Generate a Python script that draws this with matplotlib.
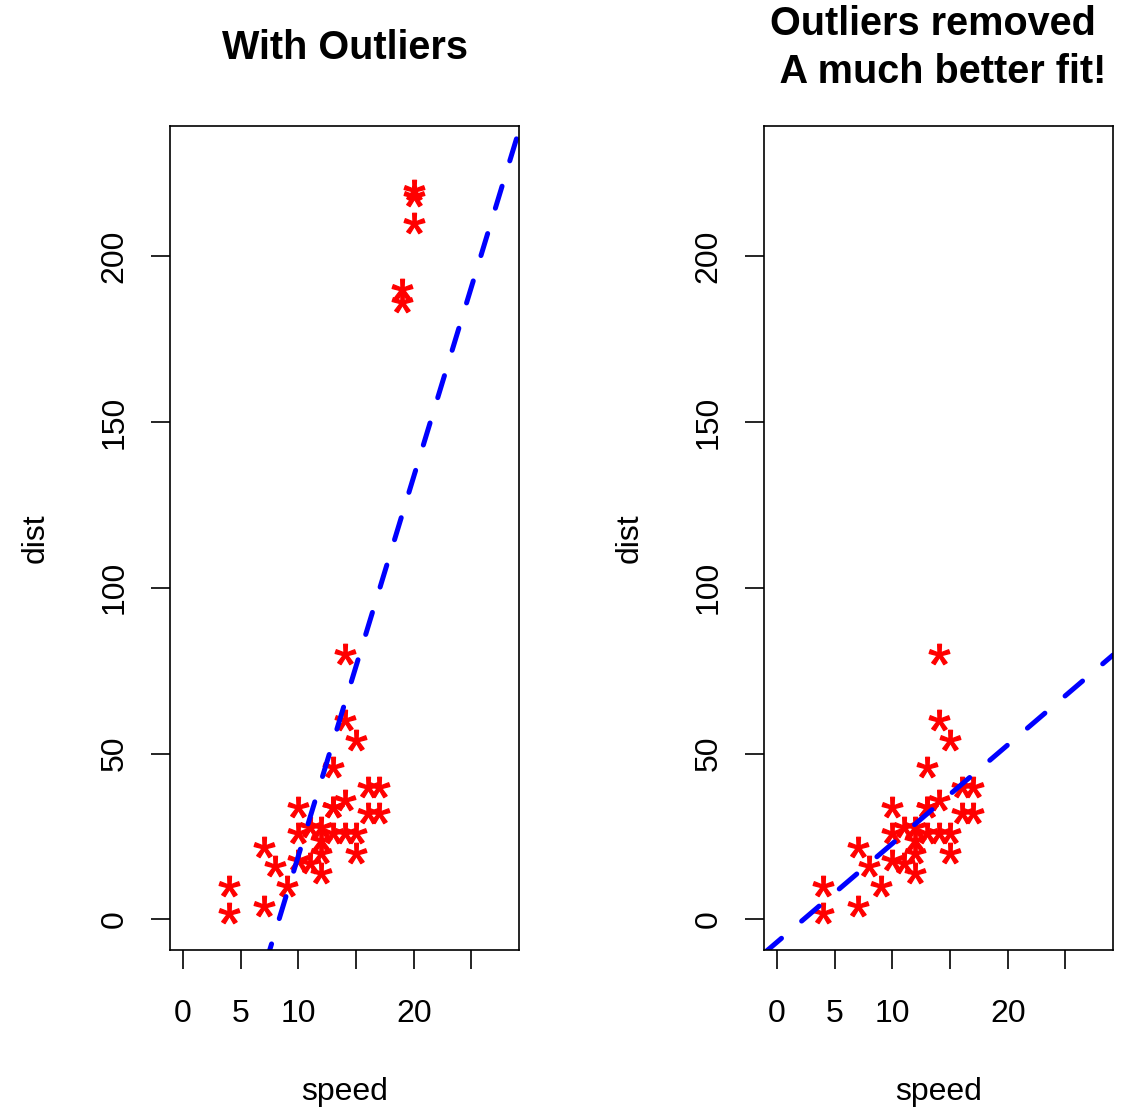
import numpy as np
import matplotlib.pyplot as plt
from matplotlib.textpath import TextPath
from matplotlib.font_manager import FontProperties
from matplotlib.path import Path

# first 30 rows of cars
speed = [4, 4, 7, 7, 8, 9, 10, 10, 10, 11, 11, 12, 12, 12, 12,
         13, 13, 13, 13, 14, 14, 14, 14, 15, 15, 15, 16, 16, 17, 17]
dist = [2, 10, 4, 22, 16, 10, 18, 26, 34, 17, 28, 14, 20, 24, 28,
        26, 34, 34, 46, 26, 36, 60, 80, 20, 26, 54, 32, 40, 32, 40]

# injected outliers
out_speed = [19, 19, 20, 20, 20]
out_dist = [190, 186, 210, 220, 218]

xticks = [0, 5, 10, 15, 20, 25]
xticklabels = ["0", "5", "10", "", "20", ""]
yticks = [0, 50, 100, 150, 200]

W, H = 1122, 1107
plt.rcParams['font.family'] = ['Liberation Sans', 'DejaVu Sans']

# asterisk marker built from the glyph, centred on the data point
tp = TextPath((0, 0), "*", size=10, prop=FontProperties(family='Liberation Sans'))
codes = tp.codes
v = tp.vertices.copy()
real = codes != Path.CLOSEPOLY
v[:, 0] -= (v[real, 0].min() + v[real, 0].max()) / 2
v[:, 1] -= (v[real, 1].min() + v[real, 1].max()) / 2
v[~real] = 0
star = Path(v, codes)

fig = plt.figure(figsize=(W / 100, H / 100), dpi=100)


def panel(left, x, y, title):
    ax = fig.add_axes([left / W, 1 - 950 / H, 349 / W, (950 - 126) / H])
    ax.plot(x, y, linestyle='none', marker=star, markersize=15,
            color='red', markeredgecolor='red', markeredgewidth=0.9)
    b, a = np.polyfit(x, y, 1)
    xl = np.array([-1.12, 29.12])
    ax.plot(xl, a + b * xl, color='blue', linewidth=3.6,
            dashes=(4.6, 5.3), dash_capstyle='round')
    ax.set_xlim(-1.12, 29.12)
    ax.set_ylim(-9.2, 239.2)
    ax.set_xticks(xticks)
    ax.set_xticklabels(xticklabels)
    ax.set_yticks(yticks)
    ax.set_yticklabels([str(t) for t in yticks], rotation=90, va='center')
    ax.tick_params(length=14, width=1.2, labelsize=23, pad=21, color='black')
    ax.tick_params(axis='y', pad=15)
    for s in ax.spines.values():
        s.set_linewidth(1.2)
    ax.set_xlabel("speed", fontsize=23, labelpad=35)
    ax.set_ylabel("dist", fontsize=23, labelpad=35)
    cx = (left + 349 / 2) / W
    fig.text(cx, 1 - 48 / H, title, ha='center', va='center',
             fontsize=28.5, fontweight='bold', linespacing=1.35)
    return ax


ax1 = panel(170, speed + out_speed, dist + out_dist, "With Outliers")
ax2 = panel(764, speed, dist, "Outliers removed \n A much better fit!")

fig.savefig("out.png", dpi=100)
